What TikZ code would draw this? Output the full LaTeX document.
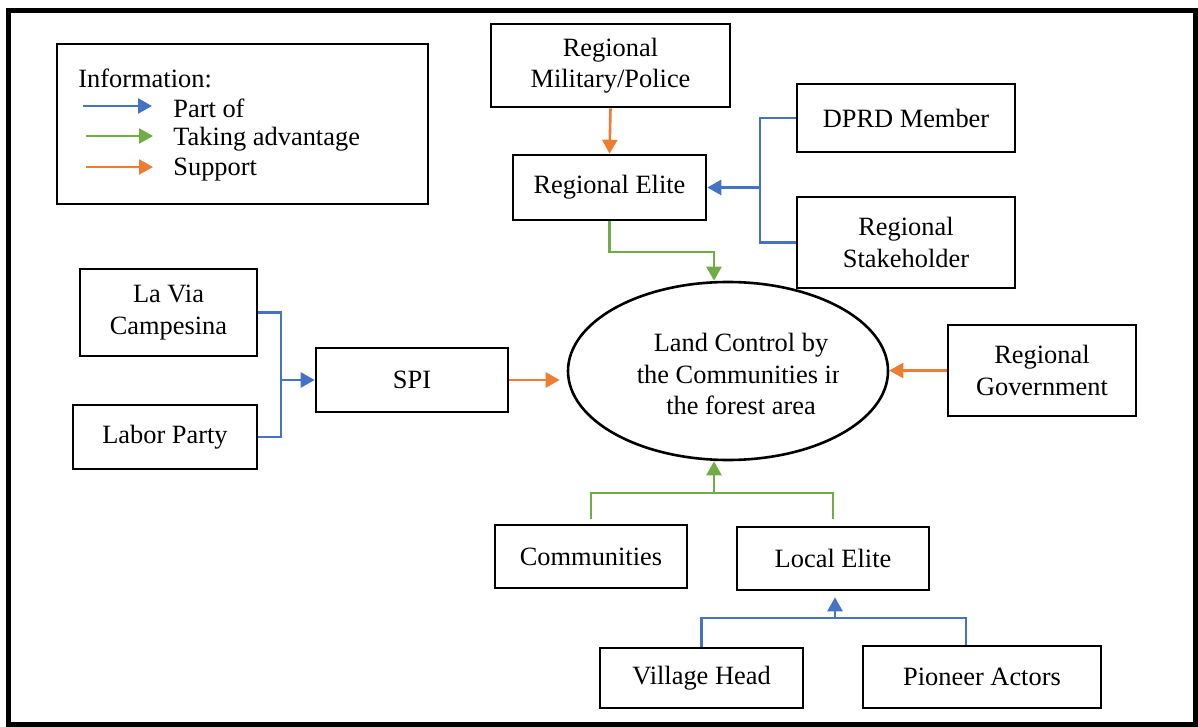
\documentclass[tikz,border=0pt]{standalone}
\usepackage{fontspec}
\setmainfont{Liberation Serif}
\usetikzlibrary{arrows.meta,shapes.geometric}

\definecolor{partblue}{HTML}{4472C4}
\definecolor{takegreen}{HTML}{70AD47}
\definecolor{suporange}{HTML}{ED7D31}

\tikzset{
  box/.style={draw, line width=1.3pt, align=center, inner sep=2pt,
    font=\fontsize{13.2}{15.8}\selectfont},
  lbl/.style={anchor=west, inner sep=0pt, font=\fontsize{13.2}{15.8}\selectfont},
  tip/.style={-{Triangle[length=7pt,width=7.5pt]}},
  partline/.style={draw=partblue, line width=1.3pt},
  takeline/.style={draw=takegreen, line width=1.3pt},
  partof/.style={partline, tip},
  takeadv/.style={takeline, tip},
  support/.style={draw=suporange, line width=1.3pt, tip},
}

\begin{document}
\begin{tikzpicture}[x=0.5pt, y=-0.5pt]
  \useasboundingbox (0,0) rectangle (1198,727);
  \draw[line width=2.5pt] (8.5,10.5) rectangle (1195,724);

  % legend
  \node[draw, line width=1.3pt, minimum width=185.5pt, minimum height=80pt] (legend) at (242.5,124) {};
  \node[lbl] (infolbl) at (78,78) {Information:};
  \node[lbl] (partlbl) at (173,108) {Part of};
  \node[lbl] (takelbl) at (173,139) {Taking advantage};
  \node[lbl] (suplbl) at (173,170) {Support};
  \coordinate (lg1a) at (83,106);  \coordinate (lg1b) at (152,106);
  \coordinate (lg2a) at (86,136);  \coordinate (lg2b) at (153,136);
  \coordinate (lg3a) at (86,167);  \coordinate (lg3b) at (153,167);
  \draw[partof] (lg1a) -- (lg1b);
  \draw[takeadv] (lg2a) -- (lg2b);
  \draw[support] (lg3a) -- (lg3b);

  % regional level
  \node[box, minimum width=119.5pt, minimum height=41.5pt] (mil) at (610.5,65.5) {Regional\\Military/Police};
  \node[box, minimum width=96.5pt, minimum height=32.5pt] (relite) at (609.5,187.5) {Regional Elite};
  \node[box, minimum width=109pt, minimum height=34pt] (dprd) at (906,118) {DPRD Member};
  \node[box, minimum width=109pt, minimum height=45.5pt] (stake) at (906,242.5) {Regional\\Stakeholder};
  \node[box, minimum width=94pt, minimum height=45.5pt] (regov) at (1042,370.5) {Regional\\Government};

  % left side
  \node[box, minimum width=88.5pt, minimum height=43.5pt] (lavia) at (168.5,312.5) {La Via\\Campesina};
  \node[box, minimum width=92pt, minimum height=32pt] (labor) at (165,437) {Labor Party};
  \node[box, minimum width=96pt, minimum height=32pt] (spi) at (412,380) {SPI};

  % centre
  \node[draw, ellipse, line width=1.3pt, minimum width=160pt, minimum height=89pt, inner sep=0pt] (ctrl) at (728,371) {};
  \begin{scope}
    \clip (570,300) rectangle (838,450);
    \node[box, draw=none] (ctrltxt) at (741,374) {Land Control by\\the Communities in\\the forest area};
  \end{scope}

  % local level
  \node[box, minimum width=96pt, minimum height=31.5pt] (comm) at (591,556.5) {Communities};
  \node[box, minimum width=96pt, minimum height=31.5pt] (local) at (833,558.5) {Local Elite};
  \node[box, minimum width=101.5pt, minimum height=30pt] (village) at (701.5,678) {Village Head};
  \node[box, minimum width=119pt, minimum height=31pt] (pioneer) at (982,677) {Pioneer Actors};

  % connectors
  \coordinate (rjoin) at (760,187.5);
  \coordinate (sjoin) at (281,380);
  \coordinate (bjoin) at (714,493);
  \coordinate (ljoin) at (835,618);

  \draw[support] (mil.south) -- (relite.north);
  \draw[takeadv] (relite.south) |- (714,252) -- (714,252 |- ctrl.north);
  \draw[partline] (dprd.west) -| (rjoin) |- (stake.west);
  \draw[partof] (rjoin) -- (relite.east);

  \draw[partline] (lavia.east) -| (sjoin) |- (labor.east);
  \draw[partof] (sjoin) -- (spi.west);
  \draw[support, shorten >=3.5pt] (spi.east) -- (spi.east -| ctrl.west);
  \draw[support] (regov.west) -- (regov.west -| ctrl.east);

  \draw[takeline] ([yshift=2.5pt]comm.north) |- (bjoin) -| ([yshift=3.5pt]local.north);
  \draw[takeadv] (bjoin) -- (bjoin |- ctrl.south);
  \draw[partline] (village.north) |- (ljoin) -| ([xshift=-8pt]pioneer.north);
  \draw[partof, shorten >=3pt] (ljoin) -- (ljoin |- local.south);
\end{tikzpicture}
\end{document}
